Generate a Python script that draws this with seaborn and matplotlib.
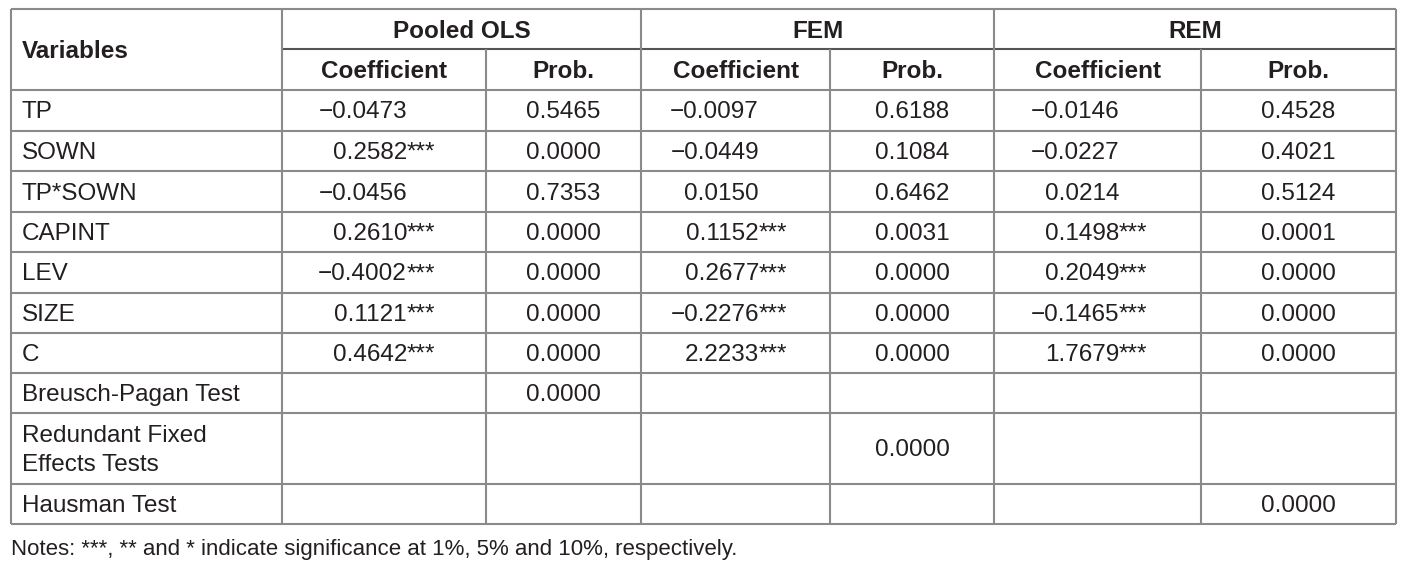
import numpy as np
import pandas as pd
import seaborn as sns
from matplotlib import pyplot as plt
from matplotlib import font_manager

# table data
variables = ["TP", "SOWN", "TP*SOWN", "CAPINT", "LEV", "SIZE", "C"]
models = ["Pooled OLS", "FEM", "REM"]
pooled_coef = [-0.0473, 0.2582, -0.0456, 0.2610, -0.4002, 0.1121, 0.4642]
pooled_prob = [0.5465, 0.0000, 0.7353, 0.0000, 0.0000, 0.0000, 0.0000]
pooled_stars = ["", "***", "", "***", "***", "***", "***"]
fem_coef = [-0.0097, -0.0449, 0.0150, 0.1152, 0.2677, -0.2276, 2.2233]
fem_prob = [0.6188, 0.1084, 0.6462, 0.0031, 0.0000, 0.0000, 0.0000]
fem_stars = ["", "", "", "***", "***", "***", "***"]
rem_coef = [-0.0146, -0.0227, 0.0214, 0.1498, 0.2049, -0.1465, 1.7679]
rem_prob = [0.4528, 0.4021, 0.5124, 0.0001, 0.0000, 0.0000, 0.0000]
rem_stars = ["", "", "", "***", "***", "***", "***"]
tests = ["Breusch-Pagan Test", "Redundant Fixed\nEffects Tests", "Hausman Test"]
test_prob = [0.0000, 0.0000, 0.0000]   # one per model, on the diagonal
note = "Notes: ***, ** and * indicate significance at 1%, 5% and 10%, respectively."

coefs = [pooled_coef, fem_coef, rem_coef]
probs = [pooled_prob, fem_prob, rem_prob]
stars = [pooled_stars, fem_stars, rem_stars]

# layout (pixels)
col_edges = [11, 282, 486, 641, 830, 994, 1201, 1396]
row_edges = [9, 49, 90, 131, 171, 212, 252, 293, 333, 373, 413, 484, 524]
coef_right = [407, 759, 1119]
dy = 2  # small nudge so text sits centred in the cells

sns.set_theme(style="white")
plt.rcParams['font.family'] = ['Liberation Sans', 'DejaVu Sans']
names = {f.name for f in font_manager.fontManager.ttflist}
narrow = 'Liberation Sans Narrow' if 'Liberation Sans Narrow' in names else 'Liberation Sans'

txt = '#231f20'
line = '#8a8a8a'
fs = 17.5

fig = plt.figure(figsize=(14.16, 5.67), dpi=100)
ax = fig.add_axes([0, 0, 1, 1])
ax.set_xlim(0, 1416)
ax.set_ylim(567, 0)
ax.axis('off')

top, bot = row_edges[0], row_edges[-1]
left, right = col_edges[0], col_edges[-1]

# horizontal lines
ax.hlines([top] + row_edges[2:], left, right, color=line, lw=1.5)
ax.hlines(row_edges[1], col_edges[1], right, color='#555555', lw=1.5)
# vertical lines
ax.vlines([left, right], top, bot, color=line, lw=1.5)
ax.vlines([col_edges[1], col_edges[3], col_edges[5]], top, bot, color=line, lw=1.5)
ax.vlines([col_edges[2], col_edges[4], col_edges[6]], row_edges[1], bot, color=line, lw=1.5)

def mid(a, b):
    return (a + b) / 2 + dy

def fmt(v):
    return f"{v:.4f}".replace('-', '\u2212')

# headers
ax.text(22, mid(row_edges[0], row_edges[2]), "Variables", ha='left', va='center',
        fontsize=fs, fontweight='bold', color=txt)
for m, name in enumerate(models):
    c0, c1, c2 = col_edges[1 + 2 * m], col_edges[2 + 2 * m], col_edges[3 + 2 * m]
    ax.text(mid(c0, c2) - dy, mid(row_edges[0], row_edges[1]), name, ha='center', va='center',
            fontsize=fs, fontweight='bold', color=txt)
    ax.text(mid(c0, c1) - dy, mid(row_edges[1], row_edges[2]), "Coefficient", ha='center', va='center',
            fontsize=fs, fontweight='bold', color=txt)
    ax.text(mid(c1, c2) - dy, mid(row_edges[1], row_edges[2]), "Prob.", ha='center', va='center',
            fontsize=fs, fontweight='bold', color=txt)

# variable rows
for i, var in enumerate(variables):
    y = mid(row_edges[2 + i], row_edges[3 + i])
    ax.text(22, y, var, ha='left', va='center', fontsize=fs, color=txt)
    for m in range(3):
        c1, c2 = col_edges[2 + 2 * m], col_edges[3 + 2 * m]
        ax.text(coef_right[m], y, fmt(coefs[m][i]), ha='right', va='center', fontsize=fs, color=txt)
        if stars[m][i]:
            ax.text(coef_right[m], y, stars[m][i], ha='left', va='center', fontsize=fs, color=txt)
        ax.text(mid(c1, c2) - dy, y, fmt(probs[m][i]), ha='center', va='center', fontsize=fs, color=txt)

# test rows
for k, t in enumerate(tests):
    r = 2 + len(variables) + k
    y = mid(row_edges[r], row_edges[r + 1])
    ax.text(22, y, t, ha='left', va='center', fontsize=fs, color=txt, linespacing=1.4)
    c1, c2 = col_edges[2 + 2 * k], col_edges[3 + 2 * k]
    ax.text(mid(c1, c2) - dy, y, fmt(test_prob[k]), ha='center', va='center', fontsize=fs, color=txt)

ax.text(left, 549, note, ha='left', va='center', fontsize=16, family=narrow, color=txt)

fig.savefig('out.png', dpi=100, facecolor='white')
